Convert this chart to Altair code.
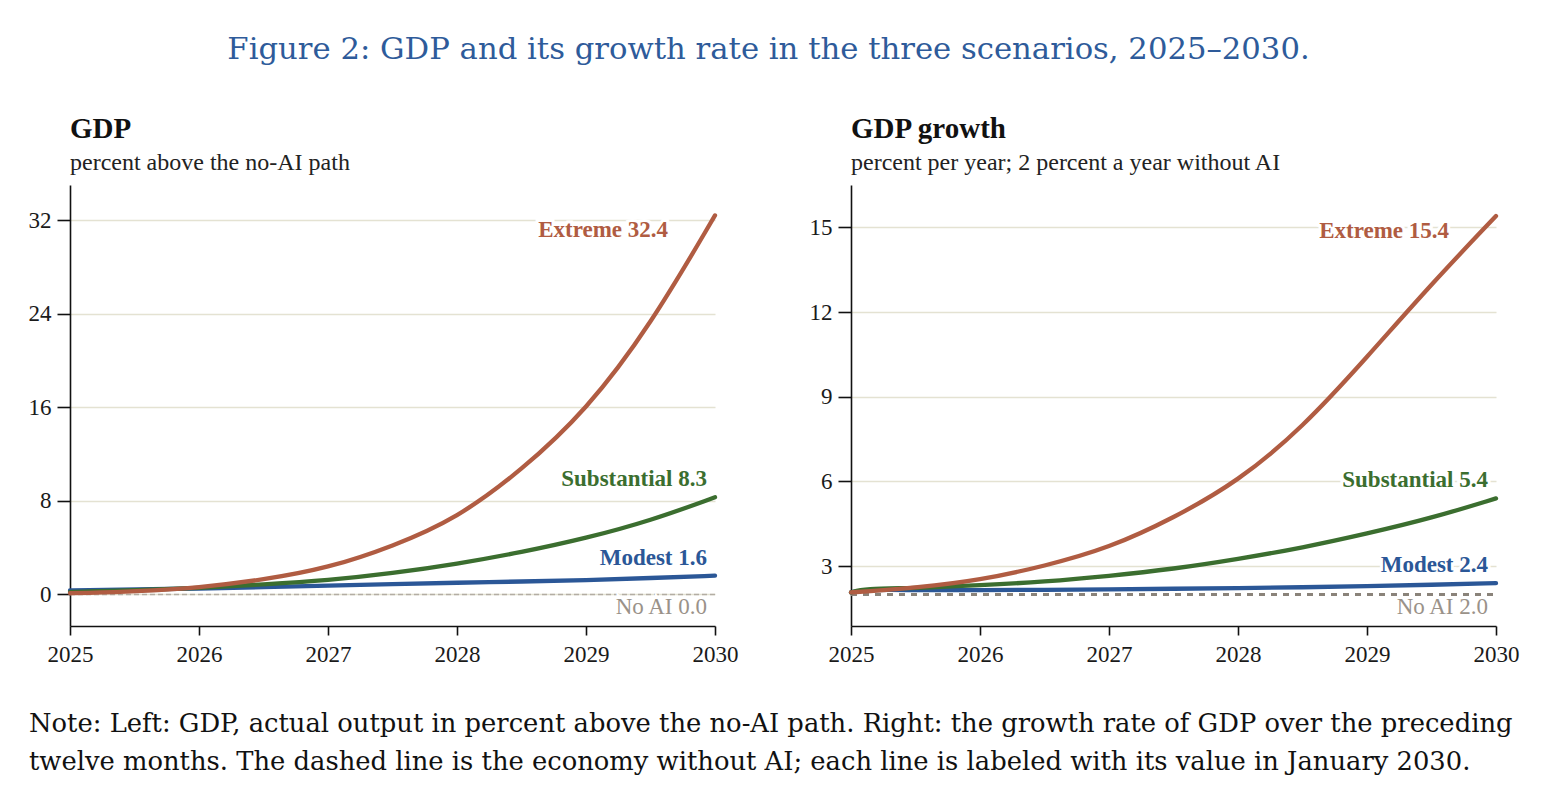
import altair as alt
import pandas as pd

# ---------------- data ----------------
years = [2025, 2025.1, 2025.5, 2026, 2026.5, 2027, 2027.5, 2028, 2028.5, 2029, 2029.5, 2030]

gdp_extreme = [0.1, 0.12, 0.25, 0.57, 1.25, 2.25, 4.1, 6.5, 10.6, 15.7, 23.0, 32.4]
gdp_substantial = [0.2, 0.25, 0.35, 0.55, 0.85, 1.2, 1.8, 2.6, 3.6, 4.8, 6.3, 8.3]
gdp_modest = [0.35, 0.37, 0.42, 0.5, 0.62, 0.75, 0.88, 1.0, 1.1, 1.22, 1.4, 1.6]
gdp_noai = [0.0, 0.0, 0.0, 0.0, 0.0, 0.0, 0.0, 0.0, 0.0, 0.0, 0.0, 0.0]

growth_extreme = [2.07, 2.1, 2.23, 2.5, 3.0, 3.64, 4.7, 6.0, 7.9, 10.4, 13.0, 15.4]
growth_substantial = [2.07, 2.2, 2.22, 2.32, 2.45, 2.65, 2.9, 3.25, 3.65, 4.15, 4.7, 5.4]
growth_modest = [2.07, 2.17, 2.15, 2.15, 2.16, 2.18, 2.2, 2.22, 2.25, 2.29, 2.34, 2.4]
growth_noai = [2.0, 2.0, 2.0, 2.0, 2.0, 2.0, 2.0, 2.0, 2.0, 2.0, 2.0, 2.0]

x_ticks = [2025, 2026, 2027, 2028, 2029, 2030]
gdp_ticks = [0, 8, 16, 24, 32]
growth_ticks = [3, 6, 9, 12, 15]

fig_title = "Figure 2: GDP and its growth rate in the three scenarios, 2025\u20132030."
left_title = "GDP"
left_sub = "percent above the no-AI path"
right_title = "GDP growth"
right_sub = "percent per year; 2 percent a year without AI"
note_lines = [
    "Note: Left: GDP, actual output in percent above the no-AI path. Right: the growth rate of GDP over the preceding",
    "twelve months. The dashed line is the economy without AI; each line is labeled with its value in January 2030.",
]

# ---------------- styles ----------------
COLORS = {"No AI": "#9a9289", "Modest": "#2b5797", "Substantial": "#3b6e2f", "Extreme": "#b05c42"}
SERIF = "Liberation Serif"
TITLE_FONT = "DejaVu Serif"
GRID = "#e4e2d2"


def make_panel(series, title, subtitle, yticks, ydomain, noai_style):
    x_enc = alt.X(
        "year:Q",
        scale=alt.Scale(domain=[2025, 2030], nice=False, zero=False),
        axis=alt.Axis(values=x_ticks, format="d", title=None, grid=False, labelPadding=8,
                      labelFlush=False),
    )
    y_enc = alt.Y(
        "value:Q",
        scale=alt.Scale(domain=ydomain, nice=False, zero=False),
        axis=alt.Axis(values=yticks, title=None, grid=True, gridColor=GRID, gridWidth=1.3,
                      labelPadding=6, tickSize=13, labelFlush=False),
    )
    layers = []
    df0 = pd.DataFrame({"year": years, "value": series["No AI"]})
    layers.append(
        alt.Chart(df0).mark_line(**noai_style).encode(x=x_enc, y=y_enc)
    )
    for name in ["Modest", "Substantial", "Extreme"]:
        df = pd.DataFrame({"year": years, "value": series[name]})
        layers.append(
            alt.Chart(df).mark_line(color=COLORS[name], strokeWidth=4.3, interpolate="basis",
                                    strokeCap="round").encode(x=x_enc, y=y_enc)
        )
    offsets = {"Extreme": (-47, 15), "Substantial": (-8, -18), "Modest": (-8, -18), "No AI": (-8, 13)}
    for name in ["No AI", "Modest", "Substantial", "Extreme"]:
        last = series[name][-1]
        dl = pd.DataFrame({"year": [years[-1]], "value": [last], "label": [f"{name} {last:.1f}"]})
        dx, dy = offsets[name]
        weight = "normal" if name == "No AI" else "bold"
        common = dict(align="right", baseline="middle", dx=dx, dy=dy, font=SERIF,
                      fontSize=23, fontWeight=weight)
        layers.append(
            alt.Chart(dl).mark_text(color="white", stroke="white", strokeWidth=6, **common)
            .encode(x=x_enc, y=y_enc, text="label:N")
        )
        layers.append(
            alt.Chart(dl).mark_text(color=COLORS[name], **common)
            .encode(x=x_enc, y=y_enc, text="label:N")
        )
    return alt.layer(*layers).properties(
        width=645,
        height=441,
        title=alt.TitleParams(
            text=title, subtitle=subtitle, anchor="start", frame="group",
            font=SERIF, fontSize=29, fontWeight="bold", color="#111",
            subtitleFont=SERIF, subtitleFontSize=24, subtitleColor="#222",
            subtitlePadding=7, offset=10,
        ),
    )


left = make_panel(
    {"No AI": gdp_noai, "Modest": gdp_modest, "Substantial": gdp_substantial, "Extreme": gdp_extreme},
    left_title, left_sub, gdp_ticks, [-2.7, 35.0],
    dict(color="#b3ada3", strokeWidth=1.5, strokeDash=[5, 3]),
)
right = make_panel(
    {"No AI": growth_noai, "Modest": growth_modest, "Substantial": growth_substantial, "Extreme": growth_extreme},
    right_title, right_sub, growth_ticks, [0.88, 16.5],
    dict(color="#8a837a", strokeWidth=3, strokeDash=[6, 6]),
)

note_df = pd.DataFrame({"label": ["\n".join(note_lines)]})
note = alt.Chart(note_df).mark_text(
    align="left", baseline="top", font=TITLE_FONT, fontSize=25.8, lineBreak="\n",
    lineHeight=38, color="#111", dx=-41,
).encode(x=alt.value(0), y=alt.value(0), text="label:N").properties(width=1300, height=70)

chart = alt.vconcat(
    alt.hconcat(left, right, spacing=71),
    note,
    spacing=45,
).properties(
    title=alt.TitleParams(text=fig_title, font=TITLE_FONT, fontSize=30.7, color="#2e5b9a",
                          fontWeight="normal", anchor="middle", offset=49, dx=-5),
    padding={"left": 20, "top": 26, "right": 10, "bottom": 10},
).configure_view(stroke=None).configure_axis(
    domainColor="#111", domainWidth=1.6, tickColor="#111", tickWidth=1.6, tickSize=9,
    labelFont=SERIF, labelFontSize=23, labelColor="#1a1a1a",
)

chart.save("out.html", embed_options={"renderer": "svg", "actions": False})
